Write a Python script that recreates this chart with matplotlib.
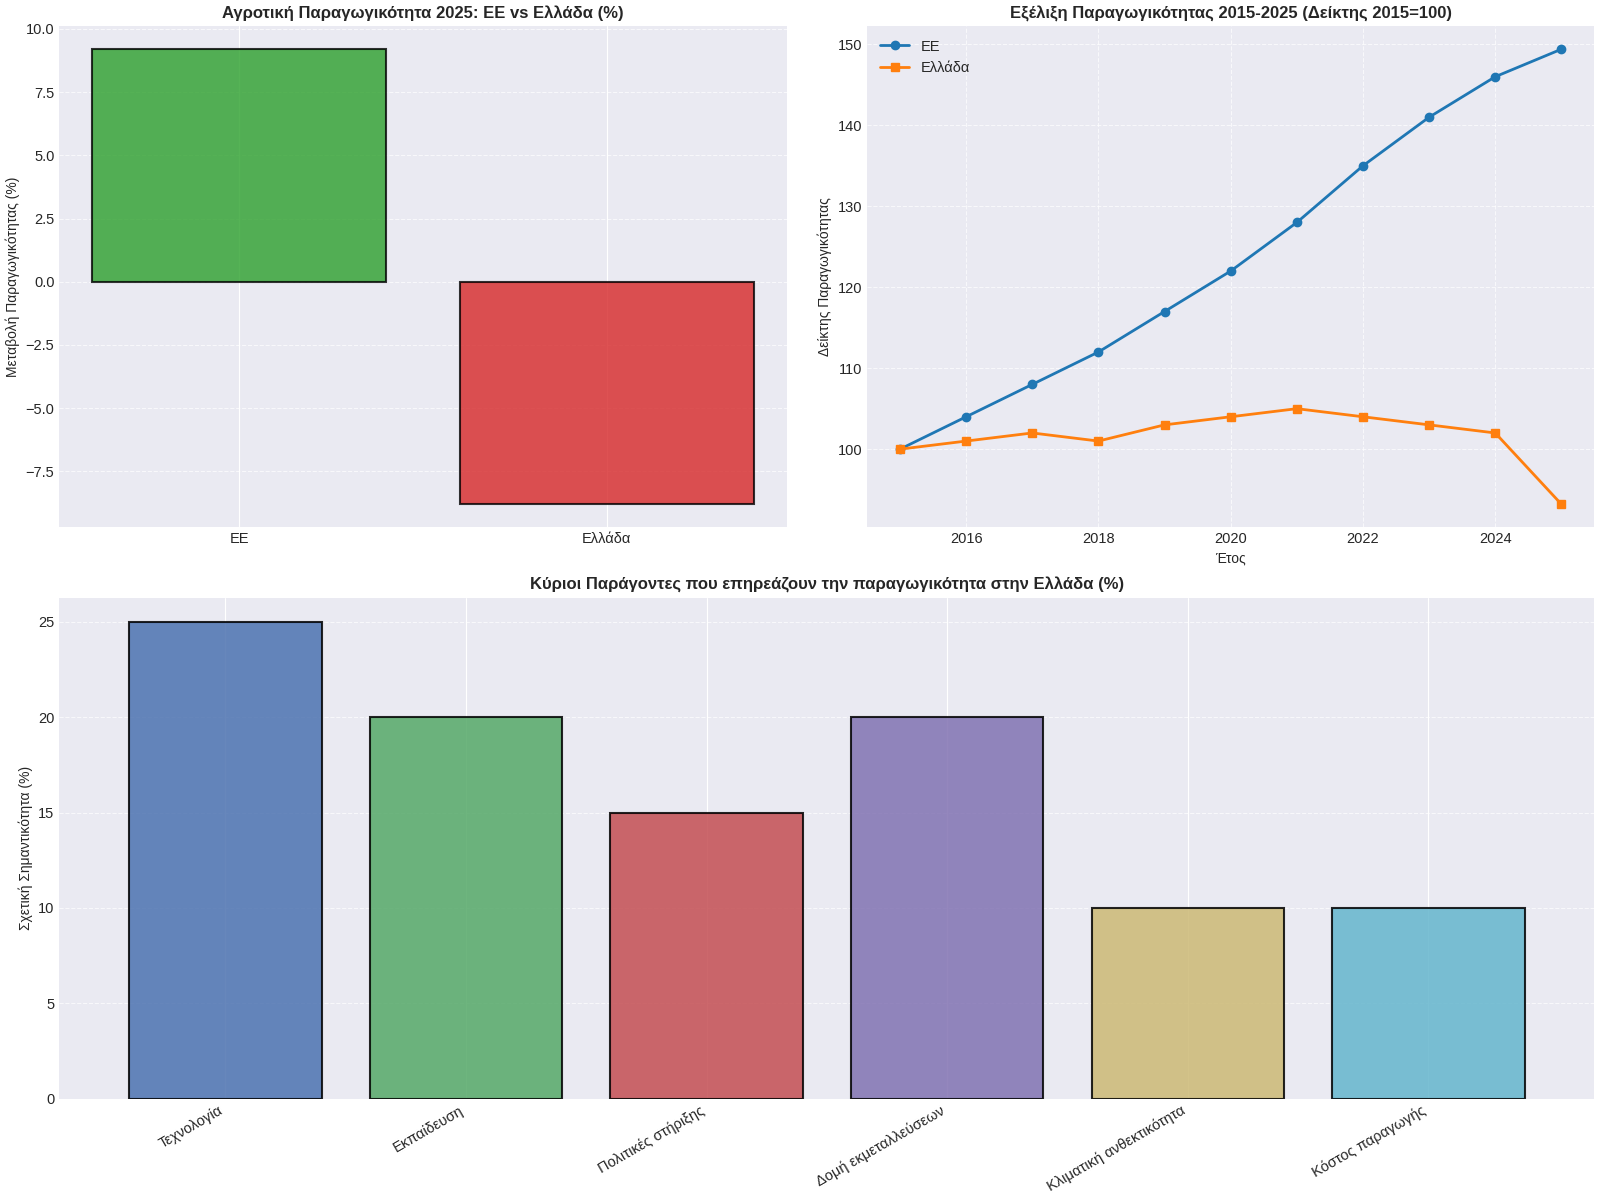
import matplotlib

matplotlib.use("Agg")
import matplotlib.pyplot as plt

# Data
regions = ["ΕΕ", "Ελλάδα"]
change_2025 = [9.2, -8.8]

years = [2015, 2016, 2017, 2018, 2019, 2020, 2021, 2022, 2023, 2024, 2025]
eu_index = [100, 104, 108, 112, 117, 122, 128, 135, 141, 146, 149.4]
gr_index = [100, 101, 102, 101, 103, 104, 105, 104, 103, 102, 93.2]

factors = ["Τεχνολογία", "Εκπαίδευση", "Πολιτικές στήριξης",
           "Δομή εκμεταλλεύσεων", "Κλιματική ανθεκτικότητα", "Κόστος παραγωγής"]
importance = [25, 20, 15, 20, 10, 10]

plt.style.use("seaborn-v0_8-darkgrid")
plt.rcParams["font.family"] = ["Liberation Sans", "DejaVu Sans"]

fig = plt.figure(figsize=(16, 12), dpi=100)
gs = fig.add_gridspec(2, 2)
ax1 = fig.add_subplot(gs[0, 0])
ax2 = fig.add_subplot(gs[0, 1])
ax3 = fig.add_subplot(gs[1, :])

# top left: 2025 change
ax1.bar(regions, change_2025, color=["#2ca02c", "#d62728"], alpha=0.8,
        edgecolor="black", linewidth=1.5)
ax1.set_title("Αγροτική Παραγωγικότητα 2025: ΕΕ vs Ελλάδα (%)",
              fontsize=12, fontweight="bold")
ax1.set_ylabel("Μεταβολή Παραγωγικότητας (%)", fontsize=10)
ax1.tick_params(labelsize=10.5)
ax1.grid(axis="y", linestyle="--", alpha=0.7)

# top right: index evolution
ax2.plot(years, eu_index, marker="o", color="#1f77b4", linewidth=2,
         markersize=6, label="ΕΕ")
ax2.plot(years, gr_index, marker="s", color="#ff7f0e", linewidth=2,
         markersize=6, label="Ελλάδα")
ax2.set_title("Εξέλιξη Παραγωγικότητας 2015-2025 (Δείκτης 2015=100)",
              fontsize=12, fontweight="bold")
ax2.set_xlabel("Έτος", fontsize=10)
ax2.set_ylabel("Δείκτης Παραγωγικότητας", fontsize=10)
ax2.tick_params(labelsize=10.5)
ax2.legend(loc="upper left", fontsize=10.5)
ax2.grid(True, linestyle="--", alpha=0.7)

# bottom: factors
colors = ["#4C72B0", "#55A868", "#C44E52", "#8172B2", "#CCB974", "#64B5CD"]
ax3.bar(factors, importance, color=colors, alpha=0.85,
        edgecolor="black", linewidth=1.5)
ax3.set_title("Κύριοι Παράγοντες που επηρεάζουν την παραγωγικότητα στην Ελλάδα (%)",
              fontsize=12, fontweight="bold")
ax3.set_ylabel("Σχετική Σημαντικότητα (%)", fontsize=10)
ax3.tick_params(labelsize=10.5)
plt.setp(ax3.get_xticklabels(), rotation=30, ha="right")
ax3.grid(axis="y", linestyle="--", alpha=0.7)

fig.tight_layout(pad=0.4, w_pad=2.2, h_pad=0.85)
fig.savefig("out.png", dpi=100)
